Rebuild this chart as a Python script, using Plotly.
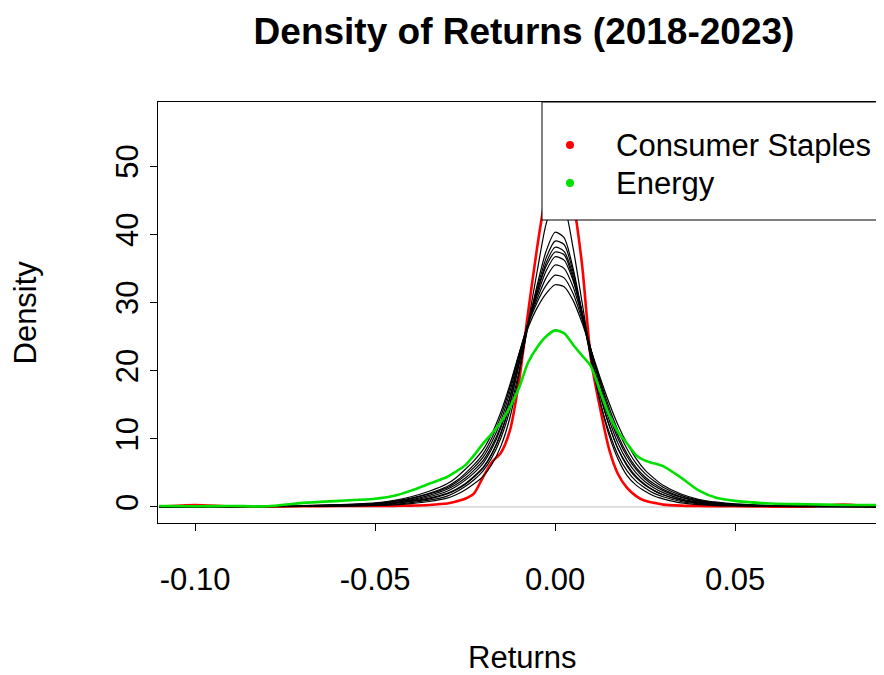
import plotly.graph_objects as go

# ---------------- data ----------------
returns_grid = [-0.11, -0.10, -0.09, -0.08, -0.07, -0.06, -0.05, -0.045, -0.04, -0.035,
                -0.03, -0.0275, -0.025, -0.0225, -0.02, -0.0175, -0.015, -0.0125, -0.01, -0.0075,
                -0.005, -0.0025, 0.0, 0.0025, 0.005, 0.0075, 0.01, 0.0125, 0.015, 0.0175,
                0.02, 0.0225, 0.025, 0.0275, 0.03, 0.035, 0.04, 0.045, 0.05, 0.06,
                0.07, 0.08, 0.09, 0.10]

consumer_staples = [0.05, 0.3, 0.05, 0.05, 0.1, 0.15, 0.15, 0.15, 0.2, 0.3,
                    0.5, 0.8, 1.2, 2.0, 4.4, 6.6, 8.0, 11.3, 18.5, 28.5,
                    38, 46, 51, 51, 45, 35.5, 21.5, 14.5, 8.5, 4.8,
                    2.8, 1.6, 0.9, 0.6, 0.35, 0.2, 0.15, 0.1, 0.1, 0.05,
                    0.05, 0.35, 0.05, 0.05]

energy = [0.15, 0.1, 0.15, 0.1, 0.6, 0.9, 1.2, 1.6, 2.4, 3.4,
          4.4, 5.2, 6.1, 7.6, 9.3, 10.8, 12.5, 14.7, 17.5, 21.2,
          23.4, 25.0, 25.9, 25.5, 23.8, 22.2, 20.6, 17.0, 13.5, 11.0,
          9.3, 7.6, 6.8, 6.4, 6.0, 4.3, 2.4, 1.3, 0.9, 0.5,
          0.4, 0.3, 0.3, 0.3]

other_sector_1 = [0.02, 0.03, 0.03, 0.05, 0.08, 0.12, 0.2, 0.3, 0.5, 0.8,
                  1.3, 1.8, 2.5, 3.4, 4.5, 6.3, 9.0, 13.2, 19.5, 27,
                  34.5, 41.5, 45, 44, 38, 30, 22, 15.5, 10.5, 7,
                  4.6, 3.2, 2.3, 1.6, 1.2, 0.6, 0.35, 0.2, 0.15, 0.08,
                  0.05, 0.04, 0.03, 0.03]
other_sector_2 = [0.03, 0.04, 0.05, 0.06, 0.1, 0.15, 0.25, 0.4, 0.65, 1.0,
                  1.6, 2.2, 3.0, 4.0, 5.3, 7.3, 10.2, 14.3, 20, 26.5,
                  32.5, 37.5, 40.3, 39.5, 35, 28.5, 21.5, 15.5, 11, 7.6,
                  5.3, 3.8, 2.8, 2.0, 1.5, 0.8, 0.45, 0.3, 0.2, 0.1,
                  0.06, 0.05, 0.04, 0.03]
other_sector_3 = [0.03, 0.05, 0.06, 0.08, 0.12, 0.2, 0.35, 0.55, 0.85, 1.3,
                  2.0, 2.6, 3.4, 4.5, 5.8, 7.9, 11.0, 15.2, 21, 27,
                  32, 36.5, 39, 38.5, 34.5, 28.5, 22, 16.5, 12, 8.5,
                  6.2, 4.5, 3.3, 2.4, 1.8, 1.0, 0.55, 0.35, 0.25, 0.12,
                  0.08, 0.05, 0.04, 0.04]
other_sector_4 = [0.04, 0.05, 0.06, 0.08, 0.12, 0.2, 0.35, 0.6, 0.95, 1.5,
                  2.3, 3.0, 3.9, 5.0, 6.4, 8.6, 11.7, 16.0, 21.5, 27,
                  31.5, 35.8, 38.1, 37.5, 34, 28.5, 22.5, 17, 12.8, 9.3,
                  6.8, 5.0, 3.7, 2.8, 2.1, 1.2, 0.7, 0.45, 0.3, 0.15,
                  0.1, 0.06, 0.05, 0.04]
other_sector_5 = [0.03, 0.04, 0.05, 0.07, 0.1, 0.18, 0.3, 0.5, 0.8, 1.2,
                  1.9, 2.5, 3.3, 4.4, 5.7, 7.8, 10.8, 15.2, 21, 26.8,
                  31.5, 35.3, 37.4, 37, 33.5, 28, 22, 16.5, 12, 8.5,
                  6, 4.3, 3.2, 2.4, 1.8, 1.0, 0.6, 0.4, 0.25, 0.12,
                  0.08, 0.05, 0.04, 0.04]
other_sector_6 = [0.04, 0.05, 0.06, 0.09, 0.14, 0.25, 0.45, 0.7, 1.05, 1.7,
                  2.6, 3.3, 4.2, 5.4, 6.8, 9.0, 12.0, 16.3, 21.8, 27,
                  31, 34.6, 36.7, 36.2, 33.2, 28.5, 23, 17.8, 13.5, 10,
                  7.4, 5.5, 4.1, 3.1, 2.4, 1.4, 0.8, 0.5, 0.35, 0.18,
                  0.1, 0.07, 0.05, 0.05]
other_sector_7 = [0.05, 0.06, 0.08, 0.1, 0.15, 0.28, 0.5, 0.8, 1.2, 1.9,
                  2.8, 3.6, 4.6, 5.8, 7.3, 9.6, 12.7, 17.0, 22.3, 27,
                  30.5, 33.6, 35.5, 35, 32.3, 28, 23, 18.3, 14, 10.5,
                  7.8, 5.8, 4.4, 3.4, 2.6, 1.5, 0.9, 0.55, 0.35, 0.18,
                  0.1, 0.07, 0.05, 0.05]
other_sector_8 = [0.05, 0.06, 0.08, 0.12, 0.18, 0.3, 0.55, 0.85, 1.3, 2.0,
                  3.0, 3.8, 4.9, 6.2, 7.8, 10.2, 13.4, 17.6, 22.5, 26.8,
                  30, 32.5, 34, 33.6, 31.3, 27.5, 23, 18.6, 14.6, 11.2,
                  8.5, 6.4, 4.9, 3.8, 2.9, 1.7, 1.0, 0.6, 0.4, 0.2,
                  0.12, 0.08, 0.06, 0.05]
other_sector_9 = [0.06, 0.07, 0.09, 0.13, 0.2, 0.35, 0.6, 0.95, 1.5, 2.3,
                  3.4, 4.3, 5.5, 6.8, 8.4, 10.8, 14.0, 18.0, 22.5, 26.3,
                  29.2, 31.3, 32.6, 32.3, 30.3, 27, 23, 19, 15.3, 12,
                  9.3, 7.1, 5.4, 4.2, 3.2, 1.9, 1.1, 0.7, 0.45, 0.22,
                  0.13, 0.09, 0.06, 0.05]

x_tick_values = [-0.10, -0.05, 0.00, 0.05]
x_tick_labels = ["-0.10", "-0.05", "0.00", "0.05"]
y_tick_values = [0, 10, 20, 30, 40, 50]
y_tick_labels = ["0", "10", "20", "30", "40", "50"]
legend_labels = ["Consumer Staples", "Energy"]
legend_colors = ["#FF0000", "#00E000"]

other_sectors = [other_sector_1, other_sector_2, other_sector_3, other_sector_4, other_sector_5,
                 other_sector_6, other_sector_7, other_sector_8, other_sector_9]

# ---------------- figure ----------------
FONT = "Liberation Sans, Arial, sans-serif"
fig = go.Figure()

fig.add_trace(go.Scatter(x=returns_grid, y=consumer_staples, mode="lines",
                         line=dict(color="#FF0000", width=2.6, shape="spline", smoothing=0.7),
                         name="Consumer Staples", showlegend=False, hoverinfo="skip"))
for ys in other_sectors:
    fig.add_trace(go.Scatter(x=returns_grid, y=ys, mode="lines",
                             line=dict(color="black", width=1.2, shape="spline", smoothing=0.7),
                             showlegend=False, hoverinfo="skip"))
fig.add_trace(go.Scatter(x=returns_grid, y=energy, mode="lines",
                         line=dict(color="#00E000", width=2.6, shape="spline", smoothing=0.7),
                         name="Energy", showlegend=False, hoverinfo="skip"))

# The plot region runs past the right edge of the window (as in the reference):
# on the page it spans x 158..908 (750 px) and y 102..523 (421 px).
PLOT_W = 750.0
PLOT_H = 421.0

def px(xp):
    return (xp - 158) / PLOT_W

def py(yp):
    return (523 - yp) / PLOT_H

shapes = [
    dict(type="line", xref="paper", yref="y", x0=0, x1=1, y0=0, y1=0,
         line=dict(color="#BEBEBE", width=1), layer="below"),
    dict(type="rect", xref="paper", yref="paper", x0=px(542), x1=1.02, y0=py(220), y1=1.0,
         fillcolor="white", line=dict(color="black", width=1), layer="above"),
]
annotations = []
for i, (lab, col) in enumerate(zip(legend_labels, legend_colors)):
    yc = py(145 + 38 * i)
    shapes.append(dict(type="circle", xref="paper", yref="paper",
                       xsizemode="pixel", ysizemode="pixel",
                       xanchor=px(570), yanchor=yc, x0=-4, x1=4, y0=-4, y1=4,
                       fillcolor=col, line=dict(color=col, width=0), layer="above"))
    annotations.append(dict(text=lab, xref="paper", yref="paper", x=px(614), y=yc,
                            xanchor="left", yanchor="middle", showarrow=False,
                            font=dict(family=FONT, size=31, color="black")))

annotations.append(dict(text="Returns", xref="paper", yref="paper", x=px(522), y=py(657),
                        xanchor="center", yanchor="middle", showarrow=False,
                        font=dict(family=FONT, size=31, color="black")))
annotations.append(dict(text="Density", xref="paper", yref="paper", x=px(25), y=0.5,
                        xanchor="center", yanchor="middle", showarrow=False, textangle=-90,
                        font=dict(family=FONT, size=31, color="black")))

# the page body adds an 8px margin at top-left, so margins are reduced by 8
fig.update_layout(
    width=900, height=667,
    margin=dict(l=150, r=0, t=94, b=152),
    paper_bgcolor="white", plot_bgcolor="white",
    showlegend=False,
    title=dict(text="<b>Density of Returns (2018-2023)</b>", x=px(524), xref="paper",
               y=1 - 23 / 667.0, yref="container", xanchor="center", yanchor="middle",
               font=dict(family=FONT, size=37, color="black")),
    shapes=shapes, annotations=annotations,
)
x_left = -0.1103
x_right = x_left + PLOT_W / 3600.0
fig.update_xaxes(range=[x_left, x_right], showgrid=False, zeroline=False,
                 showline=True, linecolor="black", linewidth=1, mirror=True,
                 ticks="outside", ticklen=7, tickcolor="black", tickwidth=1,
                 tickvals=x_tick_values, ticktext=x_tick_labels,
                 tickfont=dict(family=FONT, size=31, color="black"),
                 ticklabelstandoff=22)
fig.update_yaxes(range=[-2.35, 59.4], showgrid=False, zeroline=False,
                 showline=True, linecolor="black", linewidth=1, mirror=True,
                 ticks="outside", ticklen=7, tickcolor="black", tickwidth=1,
                 tickvals=y_tick_values, ticktext=y_tick_labels, tickangle=-90,
                 tickfont=dict(family=FONT, size=31, color="black"),
                 ticklabelstandoff=0)

fig.write_html("out.html")
